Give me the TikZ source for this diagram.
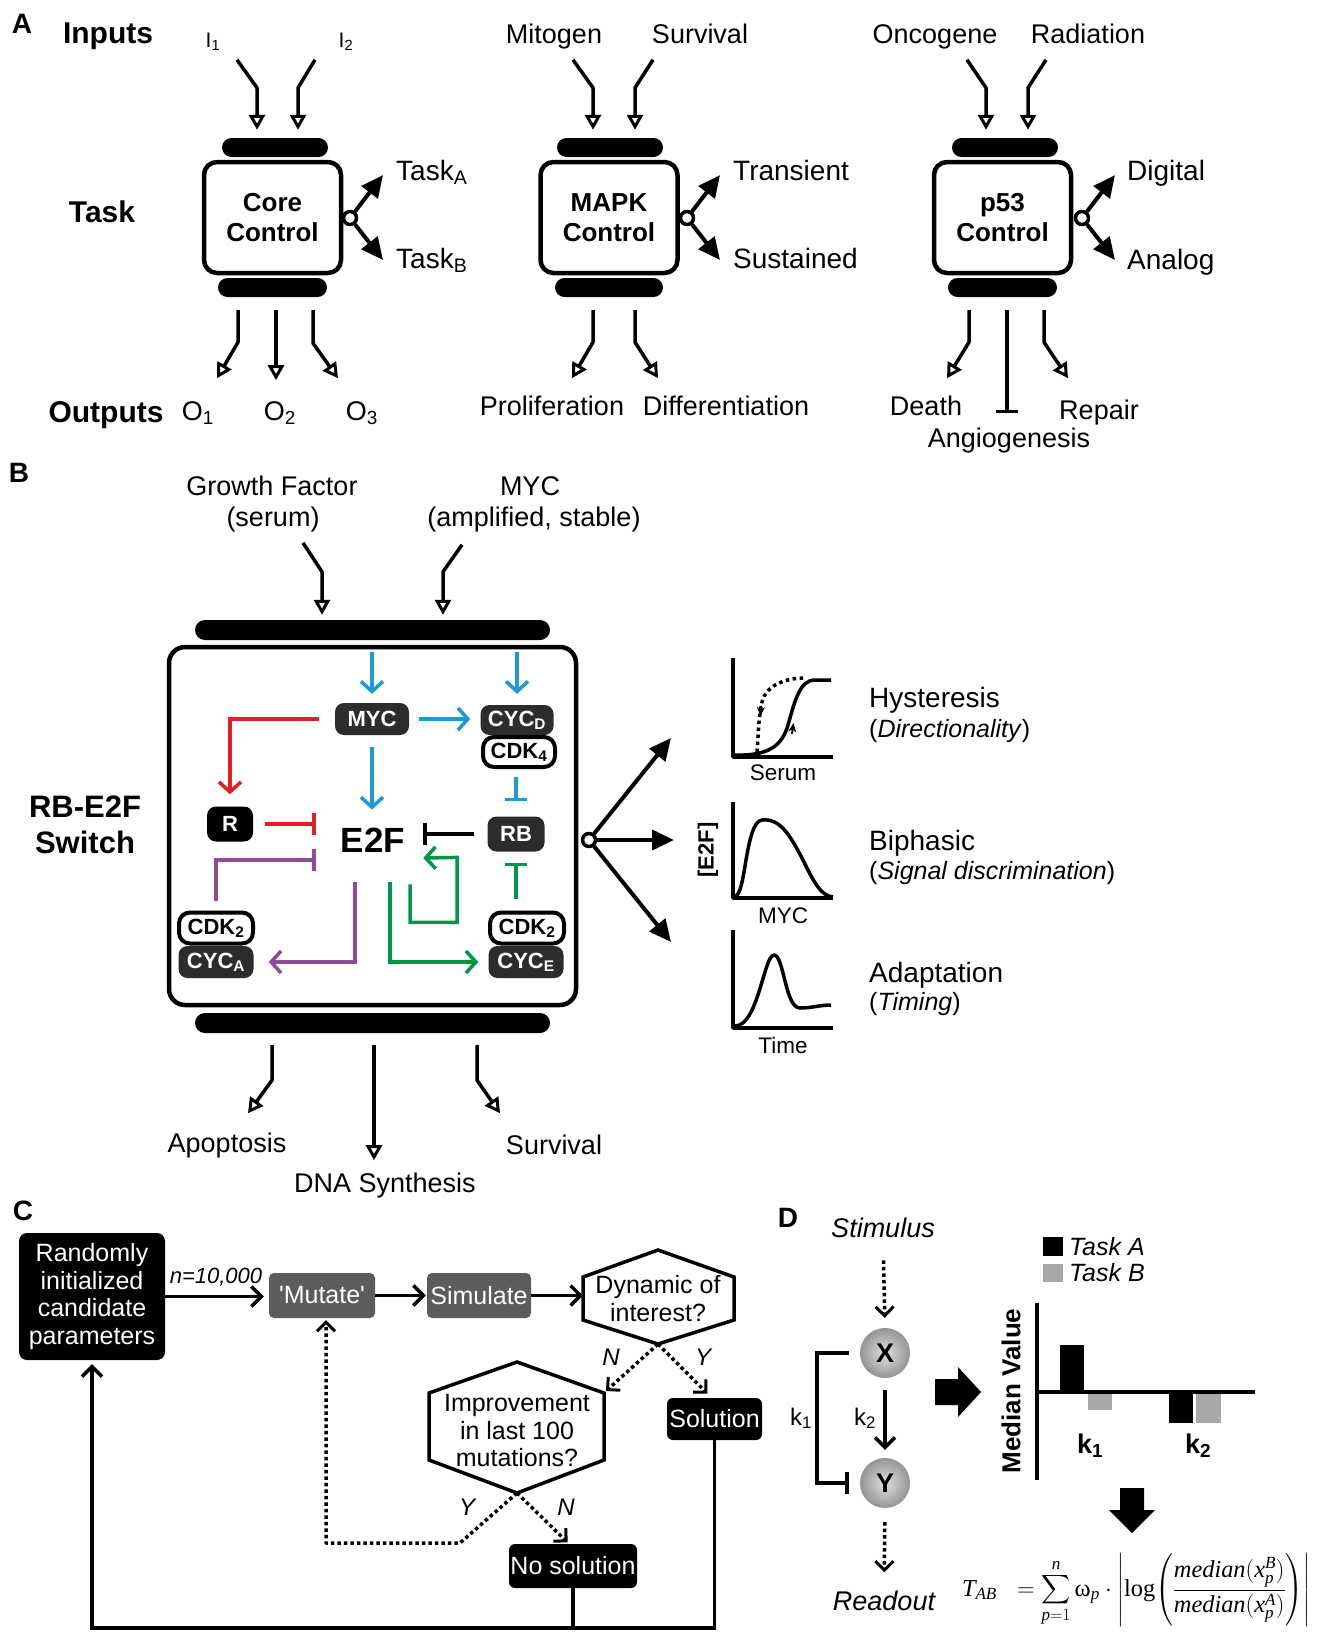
\RequirePackage{fix-cm}
\documentclass[tikz,border=0pt]{standalone}
\usepackage{exscale}
\usepackage{amsmath}
\usepackage[no-math]{fontspec}
\setmainfont{Liberation Sans}
\newfontfamily\tms{Liberation Serif}
\usetikzlibrary{arrows.meta,calc}
\newcommand\fsz[2]{\fontsize{#1pt}{#2pt}\selectfont}
\definecolor{bblue}{RGB}{27,154,214}
\definecolor{bred}{RGB}{228,30,37}
\definecolor{bpurple}{RGB}{147,74,150}
\definecolor{bgreen}{RGB}{0,151,72}
\definecolor{nodegray}{RGB}{44,44,44}
\definecolor{cgray}{RGB}{92,92,92}
\definecolor{lgray}{RGB}{168,168,168}
\begin{document}
\begin{tikzpicture}[x=1pt,y=-1pt,line join=round,
 lbl/.style={font=\fsz{27}{32},inner sep=0pt},
 tlbl/.style={font=\fsz{28}{32},inner sep=0pt},
 blbl/.style={font=\bfseries\fsz{30}{34},inner sep=0pt},
 hdr/.style={font=\bfseries\fsz{28}{30},inner sep=0pt},
 ctrl/.style={draw,line width=4.5pt,rounded corners=13pt,minimum width=137pt,minimum height=111pt,align=center,font=\bfseries\fsz{26}{30},inner sep=0pt},
 bar/.style={fill=black,rounded corners=9.5pt,minimum height=19pt,inner sep=0pt},
 inarr/.style={line width=3.5pt,-{Triangle[open,length=15pt,width=16pt,line width=3pt]}},
 bigarr/.style={line width=4pt,-{Triangle[length=22pt,width=20pt]}},
 hub/.style={circle,draw,line width=3.5pt,fill=white,minimum size=13pt,inner sep=0pt},
 tbar/.style={line width=3.5pt,-{Bar[width=22pt,line width=3.5pt]}},
 colarr/.style={line width=3.5pt,line join=miter,-{Straight Barb[length=10pt,width=22pt,line width=3.5pt]}},
 coltbar/.style={line width=3.5pt,line join=miter,-{Bar[width=22pt,line width=3.5pt]}},
 dknode/.style={fill=nodegray,text=white,rounded corners=9pt,font=\bfseries\fsz{22}{24},inner sep=0pt,minimum height=32pt},
 wtnode/.style={draw=black,fill=white,line width=4pt,rounded corners=11pt,font=\bfseries\fsz{22}{24},inner sep=0pt,minimum height=30pt},
 cbox/.style={rounded corners=8pt,text=white,font=\fsz{25}{27.5},inner sep=0pt,align=center},
 carr/.style={line width=3.5pt,line join=miter,-{Straight Barb[length=10pt,width=20pt,line width=3.5pt]}},
 dotarr/.style={line width=3.5pt,dash pattern=on 3.5pt off 3pt,-{Straight Barb[length=9pt,width=18pt,line width=3pt]}},
 ball/.style={circle,minimum size=50pt,inner sep=0pt,shading=radial,inner color=black!12,outer color=black!42,font=\bfseries\fsz{27}{30}},
 plotl/.style={line width=3.5pt}
]
\useasboundingbox (0,0) rectangle (1319,1633);
\fill[white] (0,0) rectangle (1319,1633);

%%%%%%%%%%%%%%%% PANEL A
\node[hdr,anchor=base] (lA) at (22,33) {A};
\node[blbl,anchor=base] (inputs) at (108,43) {Inputs};
\node[blbl,anchor=base] (task) at (102,222) {Task};
\node[blbl,anchor=base] (outputs) at (106,422) {Outputs};

% core control
\node[ctrl] (core) at (272.5,217.5) {Core\\Control};
\node[bar,minimum width=106pt] (topA) at (275,147.5) {};
\node[bar,minimum width=109pt] (botA) at (272.5,287.5) {};
\node[lbl,anchor=base,font=\fsz{21}{24}] (I1) at (213,47) {I\textsubscript{1}};
\node[lbl,anchor=base,font=\fsz{21}{24}] (I2) at (346,47) {I\textsubscript{2}};
\draw[inarr] ($(topA.north)+(-38,-78)$) -- ++(20,28) -- ($(topA.north)+(-18,-8)$);
\draw[inarr] ($(topA.north)+(40,-78)$) -- ++(-17,28) -- ($(topA.north)+(23,-8)$);
\draw[inarr] ($(botA.south)+(-34.5,13)$) -- ++(0,32) -- ++(-21,36);
\draw[inarr] ($(botA.south)+(3.5,13)$) -- ++(0,70);
\draw[inarr] ($(botA.south)+(40.5,13)$) -- ++(0,33) -- ++(25,35);
\node[lbl,anchor=base] (O1) at (198,420) {O\textsubscript{1}};
\node[lbl,anchor=base] (O2) at (280,420) {O\textsubscript{2}};
\node[lbl,anchor=base] (O3) at (362,420) {O\textsubscript{3}};
\coordinate (tAa) at (383,175);
\coordinate (tAb) at (383,260);
\node[hub] (hubA) at (350,218) {};
\draw[bigarr] (hubA) -- (tAa);
\draw[bigarr] (hubA) -- (tAb);
\node[tlbl,anchor=base west] (taskA) at (396,180) {Task\textsubscript{A}};
\node[tlbl,anchor=base west] (taskB) at (396,268) {Task\textsubscript{B}};

% MAPK
\node[ctrl] (mapk) at (609,217.5) {MAPK\\Control};
\node[bar,minimum width=106pt] (topM) at (610,147.5) {};
\node[bar,minimum width=108pt] (botM) at (609,287.5) {};
\node[lbl,anchor=base] (mitogen) at (554,43) {Mitogen};
\node[lbl,anchor=base] (survM) at (700,43) {Survival};
\draw[inarr] ($(topM.north)+(-37,-78)$) -- ++(20,28) -- ($(topM.north)+(-17,-8)$);
\draw[inarr] ($(topM.north)+(43,-78)$) -- ++(-18,28) -- ($(topM.north)+(25,-8)$);
\draw[inarr] ($(botM.south)+(-16,13)$) -- ++(0,32) -- ++(-21,36);
\draw[inarr] ($(botM.south)+(26,13)$) -- ++(0,32) -- ++(23,36);
\node[lbl,anchor=base] (prolif) at (552,415) {Proliferation};
\node[lbl,anchor=base] (diff) at (726,415) {Differentiation};
\coordinate (tMa) at (720,175);
\coordinate (tMb) at (720,260);
\node[hub] (hubM) at (687,218) {};
\draw[bigarr] (hubM) -- (tMa);
\draw[bigarr] (hubM) -- (tMb);
\node[tlbl,anchor=base west] (trans) at (733,180) {Transient};
\node[tlbl,anchor=base west] (sust) at (733,268) {Sustained};

% p53
\node[ctrl] (p53) at (1002.5,217.5) {p53\\Control};
\node[bar,minimum width=106pt] (topP) at (1005,147.5) {};
\node[bar,minimum width=109pt] (botP) at (1002.5,287.5) {};
\node[lbl,anchor=base] (onco) at (935,43) {Oncogene};
\node[lbl,anchor=base] (rad) at (1088,43) {Radiation};
\draw[inarr] ($(topP.north)+(-38,-78)$) -- ++(19,28) -- ($(topP.north)+(-19,-8)$);
\draw[inarr] ($(topP.north)+(41,-78)$) -- ++(-18,28) -- ($(topP.north)+(23,-8)$);
\draw[inarr] ($(botP.south)+(-33.5,13)$) -- ++(0,32) -- ++(-22,36);
\draw[tbar] ($(botP.south)+(4.5,13)$) -- ++(0,103);
\draw[inarr] ($(botP.south)+(41.5,13)$) -- ++(0,32) -- ++(24,36);
\node[lbl,anchor=base] (death) at (926,415) {Death};
\node[lbl,anchor=base] (repair) at (1099,419) {Repair};
\node[lbl,anchor=base] (angio) at (1009,447) {Angiogenesis};
\coordinate (tPa) at (1115,175);
\coordinate (tPb) at (1115,260);
\node[hub] (hubP) at (1082,218) {};
\draw[bigarr] (hubP) -- (tPa);
\draw[bigarr] (hubP) -- (tPb);
\node[tlbl,anchor=base west] (digital) at (1127,180) {Digital};
\node[tlbl,anchor=base west] (analog) at (1127,269) {Analog};

%%%%%%%%%%%%%%%% PANEL B
\node[hdr,anchor=base] (lB) at (19,482) {B};
\node[lbl,anchor=base] (gf) at (272,495) {Growth Factor};
\node[lbl,anchor=base] (gf2) at (273,526) {(serum)};
\node[lbl,anchor=base] (mycin) at (530,495) {MYC};
\node[lbl,anchor=base] (mycin2) at (534,526) {(amplified, stable)};
\node[font=\bfseries\fsz{31}{36},align=center,inner sep=0pt] (rbsw) at (85,825) {RB-E2F\\Switch};

\node[draw,line width=4.5pt,rounded corners=16pt,minimum width=407pt,minimum height=358pt,inner sep=0pt] (bbox) at (372.5,826) {};
\node[bar,minimum width=355pt,minimum height=20pt,rounded corners=10pt] (topB) at (372.5,630) {};
\node[bar,minimum width=355pt,minimum height=20pt,rounded corners=10pt] (botB) at (372.5,1023) {};
\draw[inarr] ($(topB.north)+(-69.5,-77)$) -- ++(19,29) -- ($(topB.north)+(-50.5,-5)$);
\draw[inarr] ($(topB.north)+(89.5,-75)$) -- ++(-19,27) -- ($(topB.north)+(70.5,-5)$);
\draw[inarr] ($(botB.south)+(-100.5,12)$) -- ++(0,35) -- ++(-24,33);
\draw[inarr] ($(botB.south)+(1.5,12)$) -- ++(0,115);
\draw[inarr] ($(botB.south)+(104.5,12)$) -- ++(0,35) -- ++(23,33);
\node[lbl,anchor=base] (apop) at (227,1152) {Apoptosis};
\node[lbl,anchor=base] (dnas) at (385,1192) {DNA Synthesis};
\node[lbl,anchor=base] (survB) at (554,1154) {Survival};

% inner network
\node[dknode,minimum width=74pt] (MYC) at (372,719) {MYC};
\node[wtnode,minimum width=72pt] (CDK4) at (519,752) {CDK\textsubscript{4}};
\node[dknode,minimum width=73pt,minimum height=30pt] (CYCD) at (517,720) {CYC\textsubscript{D}};
\node[dknode,fill=black,minimum width=46pt,minimum height=35pt] (R) at (230,824) {R};
\node[dknode,minimum width=57pt,minimum height=35pt] (RB) at (516,834) {RB};
\node[font=\bfseries\fsz{35}{38},inner sep=0pt] (E2F) at (373,840) {E2F};
\node[wtnode,minimum width=74pt,minimum height=31pt] (CDK2L) at (216,928) {CDK\textsubscript{2}};
\node[dknode,minimum width=75pt,minimum height=32pt] (CYCA) at (216,962) {CYC\textsubscript{A}};
\node[wtnode,minimum width=74pt,minimum height=31pt] (CDK2R) at (527,928) {CDK\textsubscript{2}};
\node[dknode,minimum width=75pt,minimum height=32pt] (CYCE) at (526,962) {CYC\textsubscript{E}};

\draw[colarr,bblue,shorten <=7pt,shorten >=9pt] (MYC.north |- bbox.north) -- (MYC.north);
\draw[colarr,bblue,shorten <=7pt,shorten >=11pt] (CYCD.north |- bbox.north) -- (CYCD.north);
\draw[colarr,bblue,shorten <=10pt,shorten >=10pt] (MYC.east) -- (MYC.east -| CYCD.west);
\draw[colarr,bblue,shorten <=12pt,shorten >=18pt] (MYC.south) -- (MYC.south |- E2F.north);
\draw[coltbar,bblue,shorten <=8pt,shorten >=15pt] (RB.north |- CDK4.south) -- (RB.north);
\draw[colarr,bred,shorten <=16pt,shorten >=12pt] (MYC.west) -| (R.north);
\draw[coltbar,bred,shorten <=12pt,shorten >=25pt] (R.east) -- (R.east -| E2F.west);
\draw[tbar,shorten <=13pt,shorten >=18pt] (RB.west) -- (RB.west -| E2F.east);
\draw[coltbar,bpurple,shorten <=10pt] (CDK2L.north) |- ($(E2F.west)+(-25,20)$);
\draw[colarr,bpurple,shorten >=15pt] ($(E2F.south)+(-18,30)$) |- (CYCA.east);
\draw[colarr,bgreen,shorten >=10pt] ($(E2F.south)+(17,30)$) |- (CYCE.west);
\draw[colarr,bgreen] ($(E2F.south)+(37,32)$) -- ++(0,38) -- ++(47,0) -- ++(0,-65) -- ($(E2F.east)+(18,18)$);
\draw[coltbar,bgreen,shorten <=12pt,shorten >=11pt] (RB.south |- CDK2R.north) -- (RB.south);

% outputs to plots
\coordinate (pA) at (671,738);
\coordinate (pB) at (674,840);
\coordinate (pC) at (671,942);
\node[hub] (hubB) at (589,840) {};
\draw[bigarr] (hubB) -- (pA);
\draw[bigarr] (hubB) -- (pB);
\draw[bigarr] (hubB) -- (pC);

% plots
\draw[plotl] (733,658) -- (733,757) -- (833,757);
\draw[plotl] (735,755) .. controls (770,756) and (782,745) .. (788,725) .. controls (795,700) and (800,680) .. (815,680) -- (831,680);
\draw[plotl,dash pattern=on 3.5pt off 3.5pt] (757,752) .. controls (759,725) and (759,700) .. (767,692) .. controls (775,682) and (790,678) .. (805,678);
\draw[line width=2pt,-{Stealth[length=9pt,width=8pt]}] (761,706) -- (760.5,716);
\draw[line width=2pt,-{Stealth[length=9pt,width=8pt]}] (792,734) -- (793.5,723);
\node[font=\fsz{22.5}{26},anchor=base,inner sep=0pt] (serum) at (783,780) {Serum};

\draw[plotl] (733,802) -- (733,898) -- (833,898);
\draw[plotl] (735,896) .. controls (746,896) and (745,822) .. (762,820) .. controls (780,818) and (790,835) .. (803,860) .. controls (815,885) and (822,896) .. (833,897);
\node[font=\fsz{22.5}{26},anchor=base,inner sep=0pt] (mycax) at (783,923) {MYC};
\node[font=\bfseries\fsz{22}{24},rotate=90,inner sep=0pt] (e2fax) at (708,850) {[E2F]};

\draw[plotl] (733,930) -- (733,1028) -- (833,1028);
\draw[plotl] (735,1026) .. controls (758,1026) and (764,955) .. (774,955) .. controls (784,955) and (785,1008) .. (800,1008) .. controls (812,1008) and (820,1005) .. (831,1005);
\node[font=\fsz{22.5}{26},anchor=base,inner sep=0pt] (timeax) at (783,1053) {Time};

\node[font=\fsz{28}{32},anchor=base west,inner sep=0pt] (hyst) at (869,707) {Hysteresis};
\node[font=\fsz{25}{29},anchor=base west,inner sep=0pt] (hyst2) at (869,737) {(\textit{Directionality})};
\node[font=\fsz{28}{32},anchor=base west,inner sep=0pt] (biph) at (869,850) {Biphasic};
\node[font=\fsz{25}{29},anchor=base west,inner sep=0pt] (biph2) at (869,879) {(\textit{Signal discrimination})};
\node[font=\fsz{28}{32},anchor=base west,inner sep=0pt] (adap) at (869,982) {Adaptation};
\node[font=\fsz{25}{29},anchor=base west,inner sep=0pt] (adap2) at (869,1010) {(\textit{Timing})};

%%%%%%%%%%%%%%%% PANEL C
\node[hdr,anchor=base] (lC) at (23,1220) {C};
\node[cbox,fill=black,minimum width=146pt,minimum height=127pt] (rand) at (92,1296.5) {Randomly\\initialized\\candidate\\parameters};
\node[cbox,fill=cgray,minimum width=106pt,minimum height=45pt,rounded corners=5pt] (mut) at (322,1295.5) {\textquotesingle Mutate\textquotesingle};
\node[cbox,fill=cgray,minimum width=104pt,minimum height=45pt,rounded corners=5pt] (sim) at (479,1295.5) {Simulate};
\node[font=\fsz{25}{28},align=center,inner sep=0pt] (dyn) at (658,1299) {Dynamic of\\interest?};
\coordinate (dynT) at (658,1250);
\coordinate (dynB) at (658,1344);
\coordinate (dynL) at (583,1297);
\draw[line width=3.5pt,line join=miter] (dynT) -- (734,1277) -- (734,1320) -- (dynB) -- (583,1320) -- (583,1277) -- cycle;
\node[font=\fsz{25}{27.5},align=center,inner sep=0pt] (imp) at (517,1431) {Improvement\\in last 100\\mutations?};
\coordinate (impT) at (517,1362);
\coordinate (impB) at (517,1493);
\coordinate (impUR) at (606,1391);
\draw[line width=3.5pt,line join=miter] (impT) -- (604,1393) -- (604,1460) -- (impB) -- (429,1460) -- (429,1393) -- cycle;
\node[cbox,fill=black,minimum width=95pt,minimum height=42pt,rounded corners=6pt] (sol) at (714.5,1419) {Solution};
\node[cbox,fill=black,minimum width=128pt,minimum height=44pt,rounded corners=6pt] (nos) at (573,1566) {No solution};

\draw[carr,shorten >=5pt] (rand.east) -- (rand.east -| mut.west);
\node[font=\itshape\fsz{22}{24},anchor=base,inner sep=0pt] (nlab) at (216,1283) {n=10,000};
\draw[carr,shorten >=1pt] (mut.east) -- (sim.west);
\draw[carr] (sim.east) -- (sim.east -| dynL);
\draw[dotarr] (dynB) -- (impUR);
\draw[dotarr,shorten >=6pt] (dynB) -- ($(sol.north)+(-3,0)$);
\node[font=\itshape\fsz{24}{26},anchor=base,inner sep=0pt] (Nup) at (611,1365) {N};
\node[font=\itshape\fsz{24}{26},anchor=base,inner sep=0pt] (Yup) at (703,1365) {Y};
\draw[dotarr,shorten >=2pt] (impB) -- ($(impB)+(-57,50)$) -| ($(mut.south)+(4,0)$);
\draw[dotarr,shorten >=2pt] (impB) -- ($(nos.north)+(-4,0)$);
\node[font=\itshape\fsz{24}{26},anchor=base,inner sep=0pt] (Ylo) at (467,1515) {Y};
\node[font=\itshape\fsz{24}{26},anchor=base,inner sep=0pt] (Nlo) at (566,1515) {N};
\coordinate (fbR) at (714.5,1628);
\draw[carr,shorten >=4pt] (sol.south) -- (fbR) -| (rand.south);
\draw[line width=3.5pt] (nos.south) -- (nos.south |- fbR);

%%%%%%%%%%%%%%%% PANEL D
\node[hdr,anchor=base] (lD) at (788,1227) {D};
\node[font=\itshape\fsz{27}{30},anchor=base,inner sep=0pt] (stim) at (883,1237) {Stimulus};
\node[ball] (X) at (885,1353) {X};
\node[ball] (Y) at (885,1483) {Y};
\node[font=\itshape\fsz{27}{30},anchor=base,inner sep=0pt] (read) at (884,1610) {Readout};
\draw[dotarr,shorten <=23pt,shorten >=10pt] (stim.south) -- (X.north);
\draw[dotarr,shorten <=14pt,shorten >=18pt] (Y.south) -- (read.north);
\draw[carr,shorten <=12pt,shorten >=8pt] (X.south) -- (Y.north);
\draw[tbar,shorten <=11pt,shorten >=11pt,line join=miter] (X.west) -- ++(-43,0) |- (Y.west);
\node[font=\fsz{24}{26},anchor=base,inner sep=0pt] (k1l) at (801,1425) {k\textsubscript{1}};
\node[font=\fsz{24}{26},anchor=base,inner sep=0pt] (k2l) at (865,1425) {k\textsubscript{2}};

\fill (935,1379) -- (958,1379) -- (958,1367) -- (981,1392) -- (958,1417) -- (958,1405) -- (935,1405) -- cycle;
\fill (1120,1488) -- (1144,1488) -- (1144,1510) -- (1155,1510) -- (1132,1533) -- (1109,1510) -- (1120,1510) -- cycle;

\node[font=\bfseries\fsz{26}{28},rotate=90,inner sep=0pt] (mv) at (1011,1391) {Median Value};
\fill (1060,1345) rectangle (1084,1392);
\fill[lgray] (1088,1392) rectangle (1112,1410);
\fill (1169,1392) rectangle (1193,1423);
\fill[lgray] (1196,1392) rectangle (1221,1423);
\draw[plotl] (1037,1303) -- (1037,1480);
\draw[plotl] (1037,1392) -- (1255,1392);
\node[font=\bfseries\fsz{27}{30},anchor=base,inner sep=0pt] (k1b) at (1090,1453) {k\textsubscript{1}};
\node[font=\bfseries\fsz{27}{30},anchor=base,inner sep=0pt] (k2b) at (1198,1453) {k\textsubscript{2}};
\fill (1043,1237) rectangle (1063,1256);
\fill[lgray] (1043,1264) rectangle (1063,1282);
\node[font=\itshape\fsz{25}{28},anchor=base west,inner sep=0pt] (tkA) at (1069,1255) {Task A};
\node[font=\itshape\fsz{25}{28},anchor=base west,inner sep=0pt] (tkB) at (1069,1281) {Task B};

\node[font=\tms\fsz{30}{34},inner sep=0pt] (formula) at (1136,1590) {\resizebox{348pt}{!}{$\textit{T}_{\textit{AB}}\;\;=\displaystyle\sum_{\textit{p}=1}^{\textit{n}}\textup{ω}_{\textit{p}}\cdot{\left|\textup{log}{\left(\dfrac{\textit{median}(\textit{x}_{\textit{p}}^{\textit{B}})}{\textit{median}(\textit{x}_{\textit{p}}^{\textit{A}})}\right)}\right|}$}};
\end{tikzpicture}
\end{document}
